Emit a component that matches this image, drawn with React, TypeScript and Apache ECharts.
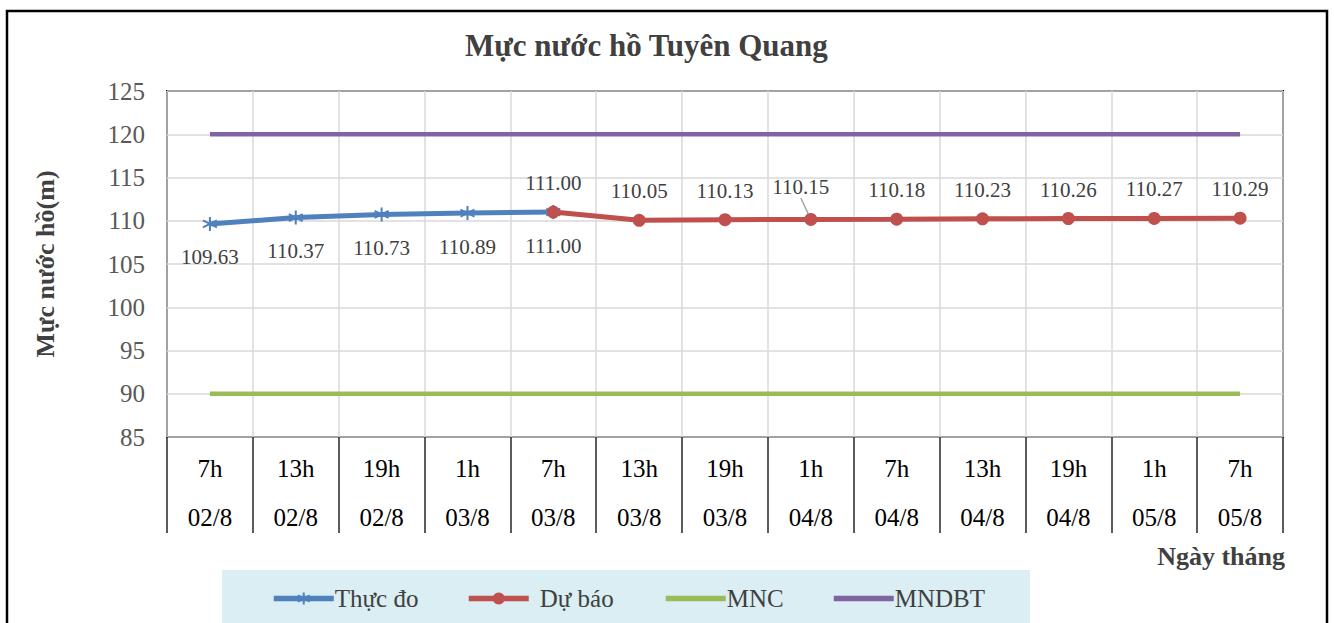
import React, { useEffect, useRef } from 'react';
import * as echarts from 'echarts';

const hours = ['7h', '13h', '19h', '1h', '7h', '13h', '19h', '1h', '7h', '13h', '19h', '1h', '7h'];
const dates = ['02/8', '02/8', '02/8', '03/8', '03/8', '03/8', '03/8', '04/8', '04/8', '04/8', '04/8', '05/8', '05/8'];
const thucDo = [109.63, 110.37, 110.73, 110.89, 111.0, null, null, null, null, null, null, null, null];
const duBao = [null, null, null, null, 111.0, 110.05, 110.13, 110.15, 110.18, 110.23, 110.26, 110.27, 110.29];
const mnc = [90, 90, 90, 90, 90, 90, 90, 90, 90, 90, 90, 90, 90];
const mndbt = [120, 120, 120, 120, 120, 120, 120, 120, 120, 120, 120, 120, 120];
const yTicks = { min: 85, max: 125, interval: 5 };
const seriesNames = ['Thực đo', 'Dự báo', 'MNC', 'MNDBT'];

const FONT = '"Liberation Serif", "Times New Roman", serif';
const TXT = '#404040';

export default function App() {
  const ref = useRef<HTMLDivElement>(null);
  useEffect(() => {
    if (!ref.current) return;
    const chart = echarts.init(ref.current, null, { renderer: 'svg' });
    const categories = hours.map((h, i) => h + '\n' + dates[i]);
    const star = 'path://M5,0 L5,10 M0.67,2.5 L9.33,7.5 M0.67,7.5 L9.33,2.5';
    const fmt = (p: any) => Number(p.value).toFixed(2);
    const legendLefts = [266, 461, 658, 826];
    const legendTextPad = [-4, 6, -4, -4];
    const legends = seriesNames.map((n, i) => ({
      left: legendLefts[i],
      top: 581,
      itemWidth: 60,
      itemHeight: 15,
      lineStyle: { width: 5.5 },
      data: [
        i >= 2
          ? { name: n, itemStyle: { color: 'transparent', borderWidth: 0, opacity: 0 } }
          : { name: n },
      ],
      textStyle: { fontFamily: FONT, fontSize: 25, color: TXT, padding: [0, 0, 0, legendTextPad[i]] },
    }));
    chart.setOption({
      animation: false,
      backgroundColor: '#ffffff',
      textStyle: { fontFamily: FONT },
      title: {
        text: 'Mực nước hồ Tuyên Quang',
        left: 460,
        top: 25,
        textStyle: { fontFamily: FONT, fontSize: 31, fontWeight: 'bold', color: TXT },
      },
      grid: {
        left: 167,
        right: 51,
        top: 91,
        bottom: 186,
        show: true,
        borderColor: '#000000',
        borderWidth: 2,
        backgroundColor: 'transparent',
      },
      legend: legends,
      graphic: [
        {
          type: 'rect',
          z: -10,
          shape: { x: 7, y: 11, width: 1320, height: 640 },
          style: { fill: 'none', stroke: '#000000', lineWidth: 2.5 },
        },
        {
          type: 'rect',
          z: 0,
          shape: { x: 222, y: 570, width: 808, height: 60 },
          style: { fill: '#DAEEF3' },
        },
        {
          type: 'text',
          z: 1,
          x: 1285,
          y: 556,
          style: {
            text: 'Ngày tháng',
            fontFamily: FONT,
            fontSize: 26,
            fontWeight: 'bold',
            fill: TXT,
            align: 'right',
            verticalAlign: 'middle',
          },
        },
      ],
      xAxis: {
        type: 'category',
        data: categories,
        boundaryGap: true,
        axisLine: { show: false },
        axisTick: { show: true, length: 96, lineStyle: { color: '#262626', width: 1.5 } },
        splitLine: { show: true, lineStyle: { color: '#d9d9d9', width: 1.5 } },
        axisLabel: {
          margin: 7,
          fontFamily: FONT,
          fontSize: 25,
          color: '#000000',
          lineHeight: 49,
          interval: 0,
        },
      },
      yAxis: {
        type: 'value',
        min: yTicks.min,
        max: yTicks.max,
        interval: yTicks.interval,
        name: 'Mực nước hồ(m)',
        nameLocation: 'middle',
        nameGap: 109,
        nameTextStyle: { fontFamily: FONT, fontSize: 26, fontWeight: 'bold', color: TXT },
        axisLine: { show: false },
        axisTick: { show: false },
        splitLine: { show: true, lineStyle: { color: '#d9d9d9', width: 1.5 } },
        axisLabel: { margin: 22, fontFamily: FONT, fontSize: 25, color: '#595959' },
      },
      series: [
        {
          name: 'Thực đo',
          type: 'line',
          data: thucDo,
          symbol: star,
          symbolSize: 14,
          lineStyle: { color: '#4F81BD', width: 5 },
          itemStyle: { color: '#4F81BD', borderColor: '#4F81BD', borderWidth: 2 },
          label: {
            show: true,
            position: 'bottom',
            distance: 15,
            fontFamily: FONT,
            fontSize: 21,
            color: TXT,
            formatter: fmt,
          },
          z: 3,
        },
        {
          name: 'Dự báo',
          type: 'line',
          data: duBao.map((v, i) =>
            i === 7 ? { value: v, labelLine: { show: true } } : v
          ),
          symbol: 'circle',
          symbolSize: 13,
          lineStyle: { color: '#C0504D', width: 5 },
          itemStyle: { color: '#C0504D' },
          label: {
            show: true,
            position: 'top',
            distance: 12,
            fontFamily: FONT,
            fontSize: 21,
            color: TXT,
            formatter: fmt,
          },
          labelLayout: (p: any) => (p.dataIndex === 7 ? { dx: -10, dy: -3 } : {}),
          labelLine: { show: false, lineStyle: { color: '#a6a6a6', width: 1.5 } },
          z: 4,
        },
        {
          name: 'MNC',
          type: 'line',
          data: mnc,
          symbol: 'none',
          lineStyle: { color: '#9BBB59', width: 4.5 },
          itemStyle: { color: '#9BBB59' },
          z: 2,
        },
        {
          name: 'MNDBT',
          type: 'line',
          data: mndbt,
          symbol: 'none',
          lineStyle: { color: '#8064A2', width: 4.5 },
          itemStyle: { color: '#8064A2' },
          z: 2,
        },
      ],
    });
    return () => chart.dispose();
  }, []);
  return (
    <div
      ref={ref}
      style={{ position: 'fixed', left: 0, top: 0, width: 1334, height: 623 }}
    />
  );
}
